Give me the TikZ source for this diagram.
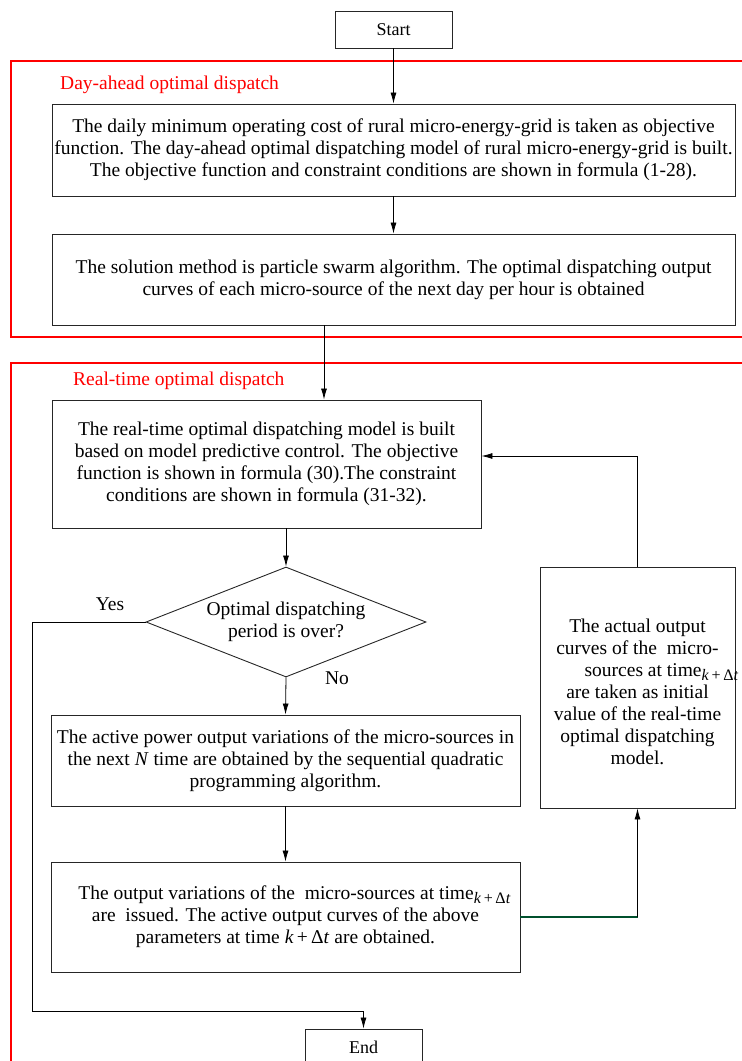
\documentclass[tikz,border=0pt]{standalone}
\usepackage{fontspec}
\setmainfont{Liberation Serif}
\usetikzlibrary{arrows.meta,shapes.geometric}
\definecolor{dgreen}{RGB}{0,80,45}
\definecolor{framered}{RGB}{255,0,0}
\newcommand{\kdt}{\raisebox{-4pt}{\fontsize{16}{16}\selectfont\textit{k}\,+\,Δ\textit{t}}}
\begin{document}
\begin{tikzpicture}[x=1pt,y=-1pt,
  every node/.style={font=\fontsize{19.5}{22}\selectfont},
  box/.style={draw=black!85,line width=0.9pt,align=center,inner sep=0pt},
  txt/.style={align=center,inner sep=0pt},
  arr/.style={-{Latex[length=11pt,width=6pt]},line width=0.8pt},
  redlab/.style={text=framered,anchor=west,inner sep=0pt},
  frm/.style={fill=framered,draw=none}]
\useasboundingbox (0,0) rectangle (742,1061);
% frames (thin filled strips)
\fill[frm] (10.4,60.4) rectangle (742,61.6);
\fill[frm] (10.4,60.4) rectangle (11.6,337.6);
\fill[frm] (10.4,336.4) rectangle (742,337.6);
\fill[frm] (10.4,362.4) rectangle (742,363.6);
\fill[frm] (10.4,362.4) rectangle (11.6,1061);
\node[redlab] (lab1) at (60,85) {Day-ahead optimal dispatch};
\node[redlab] (lab2) at (73,381) {Real-time optimal dispatch};
% nodes
\node[box,minimum width=117pt,minimum height=37pt,font=\fontsize{18}{22}\selectfont] (start) at (393.5,29.5) {Start};
\node[box,minimum width=683pt,minimum height=92pt] (b1) at (393.5,150) {The daily minimum operating cost of rural micro-energy-grid is taken as objective\\function. The day-ahead optimal dispatching model of rural micro-energy-grid is built.\\The objective function and constraint conditions are shown in formula (1-28).};
\node[box,minimum width=683pt,minimum height=91pt] (b2) at (393.5,279.5) {The solution method is particle swarm algorithm. The optimal dispatching output\\curves of each micro-source of the next day per hour is obtained};
\node[box,minimum width=429pt,minimum height=128pt] (b3) at (266.5,464) {The real-time optimal dispatching model is built\\based on model predictive control. The objective\\function is shown in formula (30).The constraint\\conditions are shown in formula (31-32).};
\node[box,shape=diamond,aspect=2.545,minimum width=280pt,minimum height=110pt] (dia) at (286,622) {Optimal dispatching\\period is over?};
\node[box,minimum width=469pt,minimum height=91pt] (b4) at (285.5,760.5) {The active power output variations of the micro-sources in\\the next \textit{N} time are obtained by the sequential quadratic\\programming algorithm.};
\node[box,minimum width=469pt,minimum height=110pt] (b5) at (285.5,917) {\hspace*{18pt}The output variations of the\ \ micro-sources at time\kdt\\are\ \ issued. The active output curves of the above\\parameters at time \textit{k}\,+\,Δ\textit{t} are obtained.};
\node[box,minimum width=195pt,minimum height=241pt] (b6) at (637.5,687.5) {};
\node[txt] (b6t) at (637.5,692) {The actual output\\curves of the\ \ micro-\\\hspace*{48pt}sources at time\kdt\\are taken as initial\\value of the real-time\\optimal dispatching\\model.};
\node[box,minimum width=117pt,minimum height=37pt,font=\fontsize{18}{22}\selectfont] (end) at (363.5,1047.5) {End};
% labels
\node (yes) at (110,604) {Yes};
\node (no) at (337,678) {No};
% helper coordinates
\coordinate (c23) at (324,0);
\coordinate (c63) at (0,456);
\coordinate (cy) at (32,1011);
% connectors
\draw[arr] (start.south) -- (b1.north);
\draw[arr] (b1.south) -- (b2.north);
\draw[arr] (b2.south -| c23) -- (b3.north -| c23);
\draw[arr] (b3.south -| dia.north) -- (dia.north);
\draw[arr] (dia.south) -- (b4.north);
\draw[arr] (b4.south) -- (b5.north);
\draw[dgreen,line width=0.8pt] (b5.east) -- (b5.east -| b6.south);
\fill[dgreen] ([yshift=0.6pt]b5.east) rectangle ([yshift=-0.6pt]b5.east -| b6.south);
\draw[arr] (b5.east -| b6.south) -- (b6.south);
\draw[arr] (b6.north) |- (b3.east |- c63);
\draw[arr] (dia.west) -| (cy) -| (end.north);
\end{tikzpicture}
\end{document}
